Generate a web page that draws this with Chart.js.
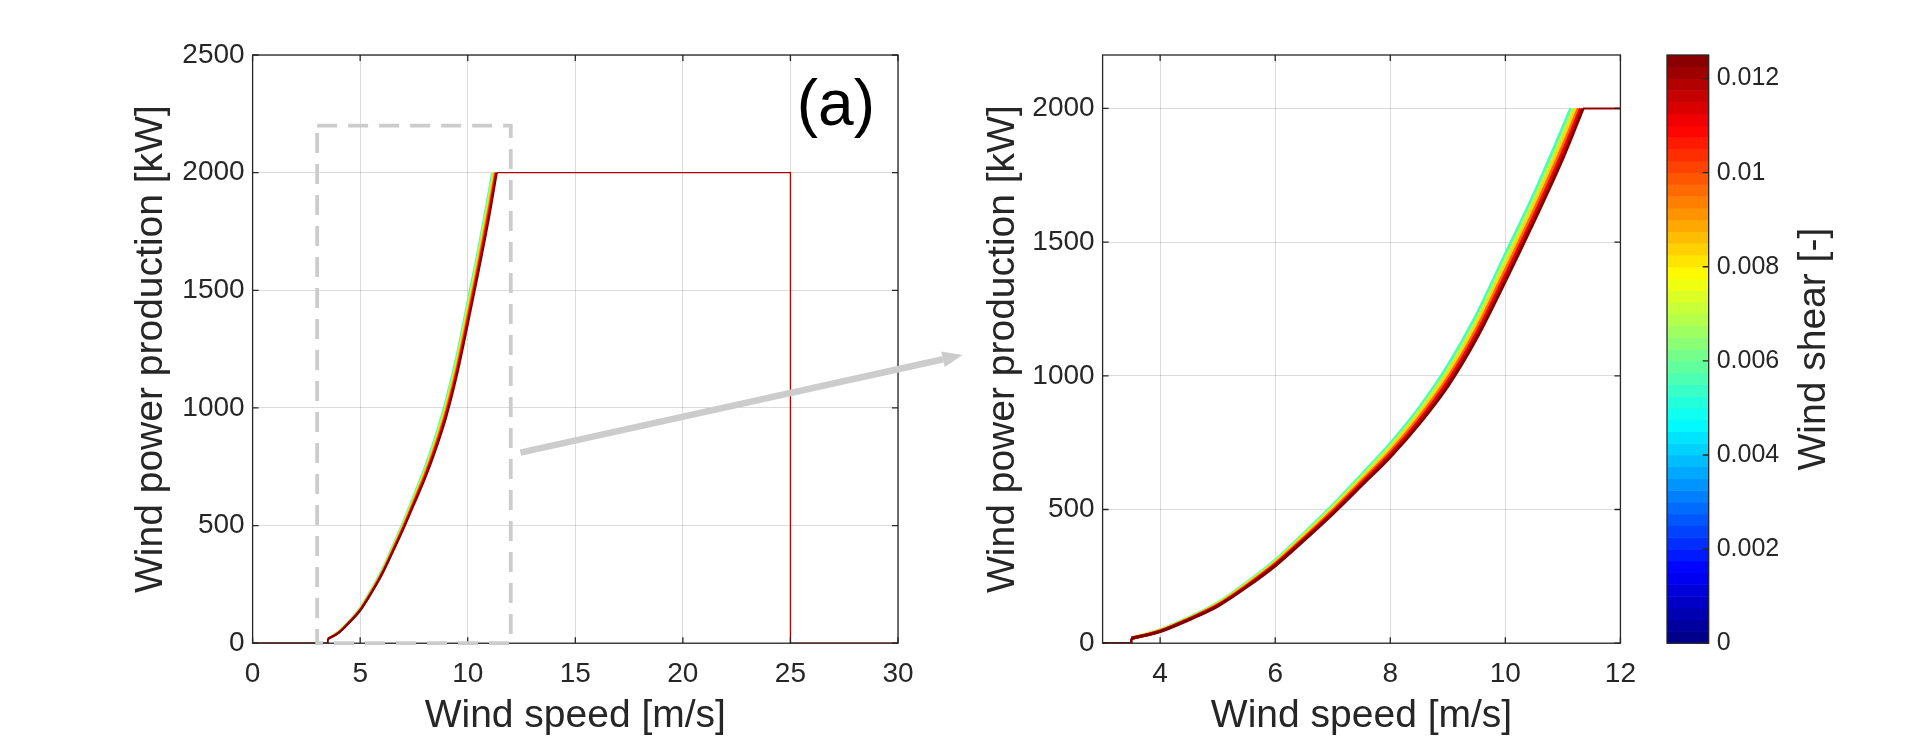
<!DOCTYPE html>
<html>
<head>
<meta charset="utf-8">
<title>Wind power curves vs wind shear</title>
<script src="https://cdn.jsdelivr.net/npm/chart.js@4.4.0/dist/chart.umd.min.js"></script>
<style>
  html, body { margin: 0; padding: 0; background: #fff; }
  #wrap { position: relative; width: 1932px; height: 741px; overflow: hidden; background: #fff; }
  #wrap canvas { position: absolute; top: 0; }
</style>
</head>
<body>
<div id="wrap">
  <canvas id="fullChart" width="1000" height="741" style="left:0"></canvas>
  <canvas id="zoomChart" width="690" height="741" style="left:960px"></canvas>
  <canvas id="shearBar" width="282" height="741" style="left:1650px"></canvas>
</div>
<script>
// ---- data ----
const windSpeed = [3.5, 4, 4.5, 5, 5.5, 6, 6.5, 7, 7.5, 8, 8.5, 9, 9.5, 10, 10.5, 11]; // m/s
const shearLevels = [0.0055, 0.0069, 0.0083, 0.0097, 0.0111, 0.0125];               // one curve per level
const power0055 = [18, 50, 96, 151, 226, 310, 411, 516, 630, 747, 880, 1038, 1229, 1455, 1681, 1930];
const power0069 = [18, 49, 94, 149, 223, 306, 406, 510, 622, 737, 868, 1022, 1211, 1435, 1661, 1906];
const power0083 = [18, 48, 93, 146, 220, 302, 401, 503, 614, 727, 856, 1008, 1194, 1415, 1640, 1884];
const power0097 = [18, 46, 91, 144, 216, 298, 395, 497, 606, 717, 844, 992, 1176, 1395, 1620, 1860];
const power0111 = [18, 45, 90, 141, 213, 294, 390, 490, 598, 707, 832, 978, 1159, 1375, 1599, 1838];
const power0125 = [18, 44, 88, 139, 210, 290, 385, 484, 590, 697, 820, 962, 1141, 1355, 1579, 1814];
const ratedSpeed = [11.137, 11.18, 11.225, 11.27, 11.31, 11.35];
const ratedPower = 2000;
const cutInSpeed = 3.5;
const cutOutSpeed = 25;
const speedRange = [0, 30];
const powerRange = [0, 2500];
const zoomSpeed = [3, 12];
const zoomPower = [0, 2200];
const shearRange = [0, 0.0125];

// tick labels
const xTicksFull = [0, 5, 10, 15, 20, 25, 30];
const yTicksFull = [0, 500, 1000, 1500, 2000, 2500];
const xTicksZoom = [4, 6, 8, 10, 12];
const yTicksZoom = [0, 500, 1000, 1500, 2000];
const shearTicks = [0, 0.002, 0.004, 0.006, 0.008, 0.01, 0.012];

const powerCurves = [power0055, power0069, power0083, power0097, power0111, power0125];

// ---- styling helpers ----
const FONT = '"Liberation Sans", Arial, Helvetica, sans-serif';
const INK = '#262626';
Chart.defaults.font.family = FONT;
Chart.defaults.color = INK;

function jet(t) {
  const c = v => Math.round(255 * Math.max(0, Math.min(1, v)));
  return 'rgb(' + c(1.5 - Math.abs(4 * t - 3)) + ',' + c(1.5 - Math.abs(4 * t - 2)) + ',' + c(1.5 - Math.abs(4 * t - 1)) + ')';
}

function buildSets(curveWidth, flatWidth, flatColor) {
  const n = powerCurves.length;
  const sets = powerCurves.map((pw, i) => ({
    data: windSpeed.map((v, k) => ({ x: v, y: pw[k] })).concat([{ x: ratedSpeed[i], y: ratedPower }]),
    borderColor: jet(shearLevels[i] / shearRange[1]),
    borderWidth: curveWidth,
    cubicInterpolationMode: 'monotone',
    order: n - i,
  }));
  const lastRated = ratedSpeed[n - 1];
  sets.push({
    data: [{ x: speedRange[0], y: 0 }, { x: cutInSpeed, y: 0 }, { x: cutInSpeed, y: powerCurves[n - 1][0] }],
    borderColor: jet(1), borderWidth: flatWidth + 0.6, order: 0,
  });
  sets.push({
    data: [{ x: lastRated, y: ratedPower }, { x: cutOutSpeed, y: ratedPower }, { x: cutOutSpeed, y: 0 }, { x: speedRange[1], y: 0 }],
    borderColor: flatColor, borderWidth: flatWidth, order: 0,
  });
  sets.forEach(s => { s.showLine = true; s.pointRadius = 0; s.fill = false; });
  return sets;
}

function axis(range, ticks, title, fit, tickPad, titlePad) {
  return {
    type: 'linear',
    min: range[0],
    max: range[1],
    afterBuildTicks: s => { s.ticks = ticks.map(v => ({ value: v })); },
    afterFit: s => { if (s.isHorizontal()) s.height = fit; else s.width = fit; },
    ticks: { callback: v => String(v), font: { size: 28 }, color: INK, padding: tickPad, autoSkip: false, maxRotation: 0 },
    grid: { color: 'rgba(0,0,0,0.14)', lineWidth: 1, drawTicks: false },
    border: { display: false },
    title: { display: true, text: title, font: { size: 39 }, color: INK, padding: titlePad },
  };
}

// box around the axes with inward ticks, MATLAB style
const boxPlugin = {
  id: 'box',
  afterDraw(chart, args, opts) {
    const { ctx, chartArea: a } = chart;
    const len = 6;
    ctx.save();
    ctx.strokeStyle = INK;
    ctx.lineWidth = 1.3;
    ctx.beginPath();
    if (opts.xTicks !== false) {
      chart.scales.x.ticks.forEach(t => {
        const p = chart.scales.x.getPixelForValue(t.value);
        ctx.moveTo(p, a.bottom); ctx.lineTo(p, a.bottom - len);
        ctx.moveTo(p, a.top); ctx.lineTo(p, a.top + len);
      });
    }
    chart.scales.y.ticks.forEach(t => {
      const p = chart.scales.y.getPixelForValue(t.value);
      if (opts.leftTicks !== false) { ctx.moveTo(a.left, p); ctx.lineTo(a.left + len, p); }
      ctx.moveTo(a.right, p); ctx.lineTo(a.right - len, p);
    });
    ctx.stroke();
    ctx.strokeRect(a.left, a.top, a.right - a.left, a.bottom - a.top);
    ctx.restore();
  }
};

// dashed zoom window, arrow and panel letter on the full curve
const annotatePlugin = {
  id: 'annotate',
  afterDraw(chart) {
    const { ctx, chartArea: a, scales: { x, y } } = chart;
    ctx.save();
    ctx.strokeStyle = '#cccccc';
    ctx.lineWidth = 3.8;
    ctx.setLineDash([20, 11]);
    const x0 = x.getPixelForValue(zoomSpeed[0]), x1 = x.getPixelForValue(zoomSpeed[1]);
    const y0 = y.getPixelForValue(zoomPower[0]), y1 = y.getPixelForValue(zoomPower[1]);
    ctx.strokeRect(x0, y1, x1 - x0, y0 - y1);
    ctx.setLineDash([]);

    const tx = x.getPixelForValue(12.45), ty = y.getPixelForValue(810);
    const hx = x.getPixelForValue(33), hy = y.getPixelForValue(1225);
    const ang = Math.atan2(hy - ty, hx - tx);
    const headL = 20, headW = 8;
    const bx = hx - headL * Math.cos(ang), by = hy - headL * Math.sin(ang);
    ctx.lineWidth = 6.5;
    ctx.beginPath(); ctx.moveTo(tx, ty); ctx.lineTo(bx, by); ctx.stroke();
    ctx.fillStyle = '#cccccc';
    ctx.beginPath();
    ctx.moveTo(hx, hy);
    ctx.lineTo(bx + headW * Math.sin(ang), by - headW * Math.cos(ang));
    ctx.lineTo(bx - headW * Math.sin(ang), by + headW * Math.cos(ang));
    ctx.closePath(); ctx.fill();

    ctx.fillStyle = '#000';
    ctx.font = '64px ' + FONT;
    ctx.textAlign = 'right';
    ctx.textBaseline = 'alphabetic';
    ctx.fillText('(a)', a.right - 23, a.top + 70);
    ctx.restore();
  }
};

// discrete jet bands + rotated label for the colour bar
const colorbarPlugin = {
  id: 'colorbar',
  beforeDatasetsDraw(chart) {
    const { ctx, chartArea: a, scales: { y } } = chart;
    const bands = 50;
    for (let i = 0; i < bands; i++) {
      const lo = shearRange[0] + (shearRange[1] - shearRange[0]) * i / bands;
      const hi = shearRange[0] + (shearRange[1] - shearRange[0]) * (i + 1) / bands;
      const pLo = y.getPixelForValue(lo), pHi = y.getPixelForValue(hi);
      ctx.fillStyle = jet((i + 0.5) / bands);
      ctx.fillRect(a.left, pHi, a.right - a.left, pLo - pHi + 0.5);
    }
  },
  afterDraw(chart) {
    const { ctx, chartArea: a } = chart;
    ctx.save();
    ctx.translate(164, (a.top + a.bottom) / 2);
    ctx.rotate(-Math.PI / 2);
    ctx.font = '39px ' + FONT;
    ctx.fillStyle = INK;
    ctx.textAlign = 'center';
    ctx.textBaseline = 'middle';
    ctx.fillText('Wind shear [-]', 0, 0);
    ctx.restore();
  }
};

const common = {
  responsive: false,
  animation: false,
  plugins: { legend: { display: false }, tooltip: { enabled: false } },
};

// (a) full power curve
const fullChart = new Chart(document.getElementById('fullChart'), {
  type: 'scatter',
  data: { datasets: buildSets(2.2, 1.3, '#b00000') },
  options: Object.assign({}, common, {
    layout: { padding: { left: 128, right: 102, top: 55, bottom: 0 } },
    scales: {
      x: axis(speedRange, xTicksFull, 'Wind speed [m/s]', 97.8, 14, { top: 0, bottom: 1 }),
      y: axis(powerRange, yTicksFull, 'Wind power production [kW]', 124.6, 8, { top: 0, bottom: 0 }),
    },
  }),
  plugins: [boxPlugin, annotatePlugin],
});

// zoom on the partial-load region
const zoomChart = new Chart(document.getElementById('zoomChart'), {
  type: 'scatter',
  data: { datasets: buildSets(3.2, 2, '#9a0000') },
  options: Object.assign({}, common, {
    layout: { padding: { left: 20, right: 20.7, top: 55, bottom: 0 } },
    scales: {
      x: axis(zoomSpeed, xTicksZoom, 'Wind speed [m/s]', 97.8, 14, { top: 0, bottom: 1 }),
      y: axis(zoomPower, yTicksZoom, 'Wind power production [kW]', 122.6, 8, { top: 0, bottom: 0 }),
    },
  }),
  plugins: [boxPlugin],
});

// colour bar for wind shear
const shearBar = new Chart(document.getElementById('shearBar'), {
  type: 'scatter',
  data: { datasets: [] },
  options: Object.assign({}, common, {
    layout: { padding: { left: 17, right: 0, top: 55, bottom: 97.8 } },
    plugins: Object.assign({}, common.plugins, { box: { xTicks: false, leftTicks: false } }),
    scales: {
      x: { display: false, min: 0, max: 1 },
      y: {
        type: 'linear',
        position: 'right',
        min: shearRange[0],
        max: shearRange[1],
        afterBuildTicks: s => { s.ticks = shearTicks.map(v => ({ value: v })); },
        afterFit: s => { s.width = 223.3; },
        ticks: { callback: v => String(v), font: { size: 25 }, color: INK, padding: 8, autoSkip: false },
        grid: { display: false, drawTicks: false },
        border: { display: false },
      },
    },
  }),
  plugins: [colorbarPlugin, boxPlugin],
});
</script>
</body>
</html>
